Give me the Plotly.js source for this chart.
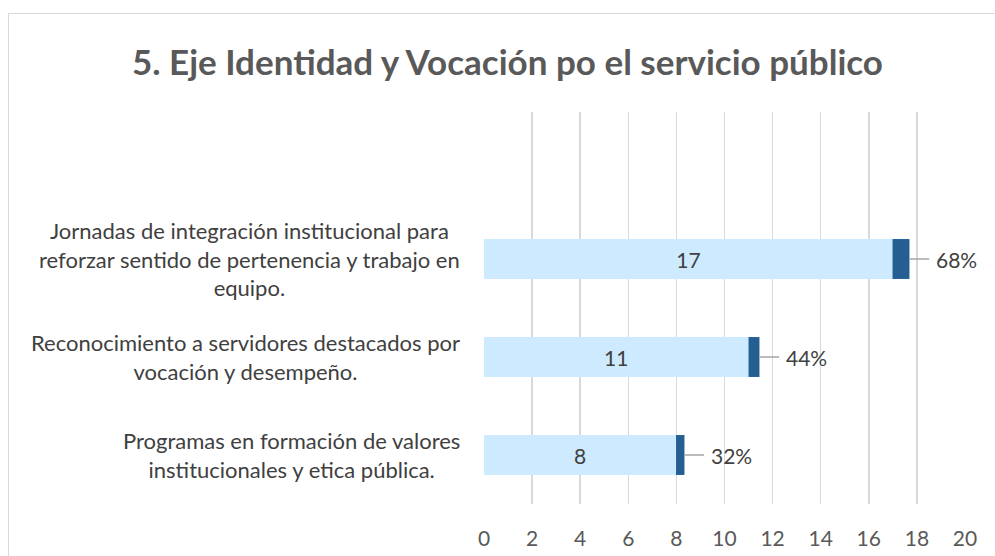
<!DOCTYPE html>
<html>
<head>
<meta charset="utf-8">
<script src="https://cdn.plot.ly/plotly-3.0.1.min.js"></script>
<style>
  html, body { margin:0; padding:0; background:#fff; }
  #wrap { position:relative; width:995px; height:556px; overflow:hidden; }
  #frame { position:absolute; left:8px; top:13px; width:1200px; height:800px;
           border-top:1.5px solid #d9d9d9; border-left:1.5px solid #d9d9d9; pointer-events:none; z-index:2; }
  #chart { position:absolute; left:0; top:0; width:995px; height:556px; }
</style>
</head>
<body>
<div id="wrap">
  <div id="chart"></div>
  <div id="frame"></div>
</div>
<script>
// Categories listed bottom-to-top
const categories = [
  "Programas en formación de valores<br>institucionales y etica pública.",
  "Reconocimiento a servidores destacados por<br>vocación y desempeño.",
  "Jornadas de integración institucional para<br>reforzar sentido de pertenencia y trabajo en<br>equipo."
];
const counts = [8, 11, 17];
const shares = [0.32, 0.44, 0.68];
const xTicks = [0, 2, 4, 6, 8, 10, 12, 14, 16, 18, 20];
const titleText = "5. Eje Identidad y Vocación po el servicio público";

const catKeys = categories.map((c, i) => "c" + i);
const FONT = "Lato, 'Open Sans', sans-serif";

const traceCounts = {
  type: "bar", orientation: "h",
  y: catKeys, x: counts,
  width: 0.4,
  marker: { color: "#cdeafe" },
  text: counts.map(String),
  textposition: "inside",
  insidetextanchor: "middle",
  textangle: 0,
  constraintext: "none",
  textfont: { family: FONT, size: 21, color: "#404040" },
  hoverinfo: "skip"
};
const traceShares = {
  type: "bar", orientation: "h",
  y: catKeys, x: shares,
  width: 0.4,
  marker: { color: "#255e91", line: { color: "#2f6da5", width: 0.5 } },
  hoverinfo: "skip"
};

const annotations = [];
categories.forEach((c, i) => {
  annotations.push({
    xref: "paper", yref: "y", x: -0.046, y: catKeys[i],
    xanchor: "right", yanchor: "middle", align: "center",
    text: c, showarrow: false,
    font: { family: FONT, size: 22, color: "#404040" }
  });
  annotations.push({
    xref: "x", yref: "y", x: counts[i] + shares[i], y: catKeys[i],
    text: Math.round(shares[i] * 100) + "%",
    showarrow: true, arrowhead: 0, arrowwidth: 1.5, arrowcolor: "#a6a6a6",
    ax: 20, ay: 0, xanchor: "left", yanchor: "middle", borderpad: 6, standoff: 0,
    font: { family: FONT, size: 21, color: "#404040" }
  });
});

const layout = {
  width: 995, height: 556,
  margin: { l: 484, r: 30, t: 112, b: 52 },
  paper_bgcolor: "#ffffff", plot_bgcolor: "#ffffff",
  barmode: "stack",
  showlegend: false,
  title: {
    text: "<b>" + titleText + "</b>",
    x: 0.51, xref: "container", xanchor: "center",
    y: 0.888, yref: "container", yanchor: "middle",
    font: { family: FONT, size: 35, color: "#595959" }
  },
  xaxis: {
    range: [0, 20], tickvals: xTicks, ticktext: xTicks.map(String),
    showgrid: true, gridcolor: "#d9d9d9", gridwidth: 1.5,
    zeroline: false, showline: false, ticks: "",
    ticklabelstandoff: 20,
    tickfont: { family: FONT, size: 21, color: "#595959" },
    fixedrange: true
  },
  yaxis: {
    type: "category", categoryorder: "array", categoryarray: catKeys,
    range: [-0.5, 3.5],
    showticklabels: false, showgrid: false, zeroline: false, showline: false, ticks: "",
    fixedrange: true
  },
  annotations: annotations
};

Plotly.newPlot("chart", [traceCounts, traceShares], layout, { displayModeBar: false, staticPlot: true });
</script>
</body>
</html>
